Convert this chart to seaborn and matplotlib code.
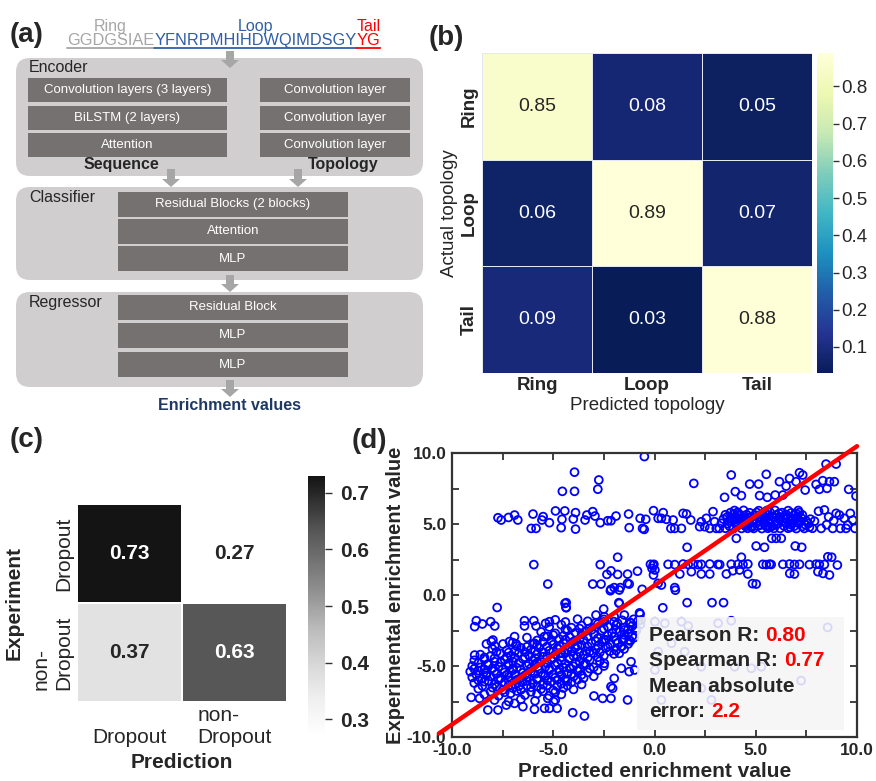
"""Composite figure: model diagram, topology confusion matrix, dropout matrix, enrichment scatter"""
import matplotlib
matplotlib.use('Agg')
import matplotlib.pyplot as plt
import matplotlib.patches as mpatches
from matplotlib.colors import ListedColormap
from matplotlib.ticker import FormatStrFormatter, MultipleLocator
import numpy as np
import pandas as pd
import seaborn as sns

# ---------------- data ----------------
# (a) model diagram text
seq_parts = ['GGDGSIAE', 'YFNRPMHIHDWQIMDSGY', 'YG']
seq_names = ['Ring', 'Loop', 'Tail']
encoder_seq_layers = ['Convolution layers (3 layers)', 'BiLSTM (2 layers)', 'Attention']
encoder_topo_layers = ['Convolution layer', 'Convolution layer', 'Convolution layer']
classifier_layers = ['Residual Blocks (2 blocks)', 'Attention', 'MLP']
regressor_layers = ['Residual Block', 'MLP', 'MLP']

# (b) topology confusion matrix
topo_labels = ['Ring', 'Loop', 'Tail']
topo_matrix = [[0.85, 0.08, 0.05],
               [0.06, 0.89, 0.07],
               [0.09, 0.03, 0.88]]

# (c) dropout confusion matrix
drop_labels_x = ['\nDropout', 'non-\nDropout']
drop_labels_y = ['Dropout', 'non-\nDropout']
drop_matrix = [[0.73, 0.27],
               [0.37, 0.63]]

# (d) predicted vs experimental enrichment
upper_pts = [(-0.5, 9.75), (-3.95, 8.65), (-2.75, 8.1), (-4.55, 7.3), (-3.95, 7.3), (-2.8, 7.45),
             (8.47, 9.22), (8.97, 9.22), (3.79, 8.45), (5.52, 8.5), (1.94, 7.86), (6.17, 7.98),
             (6.67, 8.21), (7.16, 8.61), (7.32, 8.45), (6.99, 7.98), (6.5, 7.67), (4.7, 7.81),
             (5.14, 7.81), (7.98, 7.79), (8.31, 8.05), (8.64, 7.98), (8.88, 7.98), (8.14, 7.44),
             (8.52, 7.51), (7.44, 7.39), (9.59, 7.44), (9.95, 6.97), (3.99, 7.28), (4.29, 7.0),
             (3.46, 6.88), (5.19, 7.0), (5.57, 6.88), (5.96, 7.04), (6.34, 7.04)]
band_sparse = [(-7.73, 5.44), (-7.57, 5.28), (-7.21, 5.46), (-6.91, 5.63), (-6.75, 5.28), (-6.09, 4.69),
               (-5.85, 4.69), (-6.0, 5.7), (-5.5, 5.52), (-5.56, 5.28), (-5.19, 5.09), (-4.89, 5.92),
               (-4.61, 4.74), (-4.57, 5.33), (-4.43, 5.92), (-4.01, 5.35), (-3.9, 5.8), (-3.9, 4.64),
               (-3.43, 5.28), (-3.34, 5.63), (-3.05, 5.87), (-2.94, 5.56), (-2.68, 5.09), (-2.31, 5.23),
               (-2.15, 5.23), (-1.9, 5.56), (-1.28, 5.7), (-1.25, 4.74), (-0.71, 5.4), (-0.59, 4.69),
               (-0.43, 5.33), (-0.51, 4.62), (-0.05, 5.94), (0.18, 5.4), (0.34, 5.4), (0.43, 5.8),
               (0.59, 5.33), (0.81, 4.69), (0.92, 5.28), (1.0, 4.69), (1.33, 4.69), (1.41, 5.75),
               (1.58, 5.7), (1.79, 5.28), (2.23, 4.81), (2.31, 5.16), (2.48, 4.81), (2.56, 5.4),
               (2.73, 4.69), (2.89, 5.87), (2.97, 5.16), (3.05, 4.69), (8.23, 4.69), (8.39, 5.99),
               (8.97, 5.75), (8.85, 5.23), (9.13, 5.63), (9.37, 5.4), (9.54, 4.93), (9.67, 5.75),
               (9.79, 5.28), (9.9, 4.69), (8.8, 4.69), (9.18, 4.69), (9.46, 4.69), (8.6, 5.5),
               (8.1, 5.9), (7.9, 5.2), (8.5, 4.95)]
band_dense = [(3.2, 4.69), (3.5, 4.7), (3.9, 4.68), (4.3, 4.69), (4.6, 4.7), (4.9, 4.69), (5.3, 4.68),
              (5.6, 4.7), (5.9, 4.69), (6.2, 4.69), (6.6, 4.7), (7.0, 4.68), (7.4, 4.69), (7.8, 4.7),
              (3.7, 4.85), (4.1, 4.88), (4.5, 4.83), (4.8, 4.86), (5.1, 4.85), (5.5, 4.87), (5.8, 4.84),
              (6.4, 4.86), (6.9, 4.85), (7.3, 4.83), (3.3, 5.05), (3.6, 5.02), (4.0, 5.07), (4.4, 5.04),
              (4.7, 5.06), (5.0, 5.03), (5.4, 5.05), (5.7, 5.08), (6.1, 5.02), (6.5, 5.06), (6.8, 5.04),
              (7.1, 5.07), (7.6, 5.03), (3.8, 5.2), (4.2, 5.22), (4.6, 5.18), (5.2, 5.21), (5.6, 5.19),
              (6.0, 5.22), (6.3, 5.2), (6.7, 5.18), (7.2, 5.21), (7.5, 5.2), (3.4, 5.35), (3.75, 5.37),
              (4.05, 5.33), (4.5, 5.36), (4.9, 5.34), (5.3, 5.38), (5.75, 5.35), (6.15, 5.33),
              (6.45, 5.36), (6.85, 5.35), (7.0, 5.37), (7.7, 5.34), (3.6, 5.5), (4.0, 5.52), (4.35, 5.48),
              (4.75, 5.51), (5.1, 5.5), (5.45, 5.49), (5.85, 5.52), (6.2, 5.5), (6.6, 5.48), (7.05, 5.51),
              (3.5, 5.65), (3.9, 5.67), (4.25, 5.63), (4.55, 5.66), (4.95, 5.64), (5.25, 5.66),
              (5.6, 5.65), (6.0, 5.63), (6.5, 5.67), (6.9, 5.65), (7.3, 5.64), (3.75, 5.8), (4.1, 5.82),
              (4.7, 5.79), (5.05, 5.81), (5.45, 5.8), (5.7, 5.83), (6.3, 5.8), (6.75, 5.78), (7.15, 5.81),
              (3.95, 5.95), (4.4, 5.96), (5.15, 5.94), (5.55, 5.95), (5.95, 5.96), (6.6, 5.94), (7.1, 5.95),
              (4.45, 4.95), (5.25, 4.93), (6.0, 4.96), (6.75, 4.94), (7.45, 4.95), (3.95, 5.43),
              (4.65, 5.42), (5.55, 5.44), (6.35, 5.43), (7.25, 5.42), (4.15, 5.73), (5.35, 5.72),
              (6.15, 5.74), (7.0, 5.73), (4.8, 4.77), (5.7, 4.78), (6.7, 4.77), (7.65, 4.78)]
mid_pts = [(4.04, 3.99), (5.02, 3.45), (5.43, 3.36), (5.79, 3.99), (6.01, 3.99), (6.26, 3.99),
           (6.95, 3.45), (7.27, 3.36), (1.61, 3.36), (4.29, 2.66), (8.75, 2.66), (8.56, 2.69),
           (0.67, 2.16), (1.0, 2.14), (1.41, 2.18), (1.66, 2.15), (1.9, 2.17), (2.15, 2.14),
           (2.31, 2.16), (2.73, 2.18), (3.13, 2.15), (3.22, 2.14), (3.79, 2.17), (4.12, 2.16),
           (4.37, 2.15), (4.61, 2.18), (5.35, 2.16), (5.52, 2.14), (5.68, 2.17), (5.76, 2.15),
           (6.34, 2.16), (6.67, 2.18), (6.91, 2.15), (7.16, 2.16), (7.65, 2.14), (7.98, 2.17),
           (8.14, 2.16), (8.39, 2.15), (9.03, 2.11), (-5.96, 2.14), (-2.68, 2.14), (-0.2, 2.16),
           (-0.03, 2.16), (-0.12, 1.87), (-0.07, 2.1), (0.02, 1.76), (-0.05, 1.41),
           (1.25, 1.48), (1.82, 1.64), (2.31, 1.48), (2.73, 1.48), (3.55, 1.48), (3.87, 1.71),
           (4.2, 1.76), (4.61, 1.48), (6.91, 1.48), (8.07, 1.64), (8.64, 1.41), (6.68, 1.52),
           (8.32, 1.52), (-1.82, 2.66), (-2.15, 1.7), (-2.35, 1.45), (-1.82, 1.45), (-1.33, 1.47),
           (-0.84, 1.68), (-5.27, 0.77), (-3.05, 0.77), (-2.64, 0.77), (-2.15, 0.4), (-1.99, 0.52),
           (-1.69, 0.52), (-1.33, 0.82), (-1.25, 0.77), (-0.61, 0.4), (5.02, 0.77), (1.0, 0.52),
           (0.18, 0.82), (0.34, 0.7), (1.03, 0.34), (4.84, 0.8), (1.61, -0.54), (2.84, -0.54),
           (3.41, -0.54), (0.41, -0.9), (-0.74, -1.26), (-1.76, -0.54), (-4.36, -0.54),
           (-4.36, -0.9), (-7.77, -0.88), (-4.42, -0.59), (-2.51, -0.99), (-2.18, 0.3), (-1.74, 0.35)]
cluster_pts = [(-4.9, -1.75), (-4.4, -1.9), (-3.8, -1.7), (-3.3, -1.85), (-2.9, -1.95), (-2.5, -1.72),
               (-2.0, -1.88), (-1.6, -1.78), (-1.2, -1.93), (-0.8, -1.8), (-5.2, -2.25), (-4.6, -2.1),
               (-4.1, -2.3), (-3.6, -2.15), (-3.2, -2.35), (-2.8, -2.05), (-2.3, -2.25), (-1.9, -2.12),
               (-1.5, -2.3), (-1.1, -2.18), (-0.7, -2.08), (-5.6, -2.6), (-4.9, -2.7), (-4.3, -2.5),
               (-3.9, -2.65), (-3.4, -2.55), (-3.0, -2.75), (-2.6, -2.5), (-2.1, -2.68), (-1.7, -2.58),
               (-1.3, -2.72), (-0.9, -2.52), (-6.3, -3.0), (-5.3, -2.92), (-4.7, -3.1), (-4.2, -2.95),
               (-3.7, -3.12), (-3.3, -2.9), (-2.8, -3.05), (-2.4, -3.15), (-2.0, -2.93), (-1.5, -3.08),
               (-1.0, -3.0), (-7.0, -3.35), (-6.0, -3.45), (-5.5, -3.3), (-5.0, -3.5), (-4.5, -3.38),
               (-4.0, -3.28), (-3.6, -3.52), (-3.1, -3.4), (-2.6, -3.3), (-2.2, -3.48), (-1.8, -3.35),
               (-1.3, -3.45), (-8.0, -3.8), (-7.3, -3.9), (-6.6, -3.72), (-6.1, -3.85), (-5.7, -3.7),
               (-5.2, -3.92), (-4.8, -3.78), (-4.3, -3.88), (-3.9, -3.7), (-3.4, -3.95), (-2.9, -3.82),
               (-2.4, -3.72), (-1.9, -3.9), (-1.5, -3.8), (-8.6, -4.2), (-8.1, -4.3), (-7.6, -4.12),
               (-7.1, -4.28), (-6.7, -4.1), (-6.2, -4.25), (-5.8, -4.15), (-5.3, -4.32), (-4.9, -4.18),
               (-4.4, -4.08), (-4.0, -4.3), (-3.5, -4.2), (-3.0, -4.1), (-2.5, -4.28), (-2.0, -4.15),
               (-8.9, -4.6), (-8.4, -4.52), (-7.9, -4.7), (-7.4, -4.55), (-7.0, -4.68), (-6.5, -4.5),
               (-6.0, -4.62), (-5.6, -4.72), (-5.1, -4.55), (-4.6, -4.65), (-4.2, -4.5), (-3.7, -4.7),
               (-3.2, -4.58), (-2.7, -4.66), (-9.0, -5.0), (-8.6, -5.1), (-8.2, -4.92), (-7.7, -5.05),
               (-7.2, -4.95), (-6.8, -5.12), (-6.3, -5.0), (-5.9, -4.9), (-5.4, -5.08), (-4.9, -4.95),
               (-4.5, -5.1), (-4.0, -5.02), (-3.5, -4.92), (-3.0, -5.1), (-2.5, -5.0), (-9.1, -5.4),
               (-8.7, -5.32), (-8.3, -5.5), (-7.9, -5.35), (-7.4, -5.45), (-7.0, -5.3), (-6.5, -5.48),
               (-6.1, -5.38), (-5.6, -5.52), (-5.2, -5.3), (-4.7, -5.42), (-4.3, -5.55), (-3.8, -5.35),
               (-3.3, -5.45), (-2.8, -5.3), (-9.0, -5.8), (-8.5, -5.9), (-8.1, -5.72), (-7.6, -5.85),
               (-7.2, -5.75), (-6.7, -5.92), (-6.3, -5.78), (-5.8, -5.88), (-5.4, -5.7), (-4.9, -5.82),
               (-4.4, -5.95), (-4.0, -5.75), (-3.5, -5.85), (-3.0, -5.72), (-8.9, -6.2), (-8.4, -6.1),
               (-7.9, -6.28), (-7.4, -6.15), (-6.9, -6.3), (-6.5, -6.12), (-6.0, -6.22), (-5.5, -6.32),
               (-5.1, -6.1), (-4.6, -6.25), (-4.1, -6.15), (-3.6, -6.3), (-8.7, -6.6), (-8.0, -6.52),
               (-7.5, -6.7), (-7.0, -6.55), (-6.6, -6.68), (-6.1, -6.5), (-5.6, -6.62), (-5.0, -6.72),
               (-4.5, -6.55), (-4.0, -6.65), (-8.4, -7.0), (-7.7, -7.1), (-7.1, -6.92), (-6.4, -7.05),
               (-5.8, -6.95), (-5.2, -7.1), (-4.6, -7.0), (-7.9, -7.4), (-7.2, -7.5), (-6.6, -7.35),
               (-5.9, -7.45), (-4.9, -7.4)]
cluster_core = [(-4.4, -2.42), (-3.7, -2.36), (-3.1, -2.45), (-2.5, -2.38), (-1.9, -2.44), (-1.3, -2.4),
                (-0.9, -2.33), (-5.0, -2.82), (-4.5, -2.88), (-3.6, -2.78), (-2.3, -2.85), (-1.5, -2.8),
                (-1.1, -2.9), (-5.8, -3.2), (-5.1, -3.25), (-4.4, -3.15), (-3.9, -3.22), (-3.5, -3.18),
                (-2.9, -3.25), (-2.5, -3.15), (-1.9, -3.2), (-1.2, -3.24), (-6.8, -3.6), (-6.3, -3.65),
                (-5.8, -3.55), (-5.3, -3.62), (-4.7, -3.58), (-4.2, -3.66), (-3.8, -3.56), (-3.3, -3.62),
                (-2.8, -3.58), (-2.3, -3.64), (-1.6, -3.6), (-7.8, -4.0), (-7.2, -4.05), (-6.9, -3.95),
                (-6.4, -4.02), (-5.9, -3.96), (-5.5, -4.04), (-5.0, -3.98), (-4.6, -4.05), (-4.1, -3.95),
                (-3.7, -4.02), (-3.2, -3.98), (-2.7, -4.04), (-2.2, -3.96), (-8.4, -4.4), (-7.9, -4.45),
                (-7.3, -4.36), (-6.9, -4.42), (-6.4, -4.38), (-5.9, -4.44), (-5.5, -4.35), (-5.0, -4.42),
                (-4.6, -4.38), (-4.2, -4.45), (-3.8, -4.36), (-3.3, -4.42), (-2.8, -4.38), (-8.7, -4.8),
                (-8.2, -4.84), (-7.6, -4.76), (-7.2, -4.82), (-6.7, -4.78), (-6.2, -4.85), (-5.8, -4.76),
                (-5.3, -4.82), (-4.8, -4.78), (-4.4, -4.84), (-3.9, -4.76), (-3.4, -4.82), (-8.9, -5.2),
                (-8.4, -5.24), (-8.0, -5.16), (-7.5, -5.22), (-7.0, -5.18), (-6.6, -5.25), (-6.1, -5.16),
                (-5.7, -5.22), (-5.2, -5.18), (-4.7, -5.24), (-4.2, -5.16), (-3.7, -5.22), (-3.2, -5.18),
                (-8.8, -5.6), (-8.3, -5.65), (-7.8, -5.56), (-7.3, -5.62), (-6.9, -5.58), (-6.4, -5.66),
                (-5.9, -5.56), (-5.5, -5.62), (-5.0, -5.58), (-4.6, -5.64), (-4.1, -5.56), (-3.6, -5.62),
                (-8.7, -6.0), (-8.2, -6.05), (-7.7, -5.96), (-7.2, -6.02), (-6.8, -5.98), (-6.3, -6.04),
                (-5.8, -5.96), (-5.3, -6.02), (-4.8, -5.98), (-4.3, -6.04), (-3.8, -5.96), (-8.5, -6.4),
                (-7.8, -6.45), (-7.2, -6.36), (-6.7, -6.42), (-6.3, -6.38), (-5.8, -6.44), (-5.3, -6.36),
                (-4.8, -6.42), (-4.3, -6.38), (-8.1, -6.8), (-7.4, -6.85), (-6.8, -6.76), (-6.1, -6.82),
                (-5.5, -6.78), (-4.9, -6.84)]
cluster_edge = [(-8.88, -2.23), (-8.8, -1.81), (-8.5, -2.04), (-8.09, -1.88), (-7.89, -2.18),
                (-6.42, -1.81), (-6.42, -2.18), (-5.96, -1.81), (-5.85, -2.18), (-4.37, -0.87),
                (-5.38, -2.0), (-5.19, -1.88), (-1.74, -0.59), (-0.71, -1.34), (-8.3, -3.45),
                (-7.98, -3.17), (-7.89, -3.59), (-7.48, -3.45), (-7.16, -3.28), (-6.83, -3.45),
                (-6.91, -2.93), (-5.93, -3.4), (-5.44, -2.93), (-8.06, -3.28), (-8.88, -4.23),
                (-9.05, -7.21), (-8.64, -7.28), (-8.23, -8.1), (-7.73, -8.1), (-7.32, -7.75),
                (-6.91, -7.63), (-6.5, -7.86), (-5.93, -8.05), (-5.43, -7.98), (-5.27, -7.28),
                (-5.19, -7.98), (-4.98, -7.51), (-4.81, -7.98), (-4.04, -8.29), (-3.46, -8.52),
                (-2.56, -7.28), (-2.15, -7.28), (-1.33, -7.39), (-1.16, -4.7), (-1.25, -5.4),
                (-1.64, -5.16), (-1.99, -5.87), (-2.15, -6.45), (-2.07, -6.57), (-2.99, -7.11),
                (-0.98, -5.28), (-2.48, -4.81), (-1.74, -4.11), (-1.66, -3.64), (-1.58, -3.17),
                (-1.25, -3.17), (-1.49, -2.46), (-1.17, -1.99), (-1.82, -1.99), (-2.48, -1.88),
                (-2.89, -1.41), (-2.48, -1.53), (-1.99, -1.53), (-1.49, -1.41), (-1.03, -1.71),
                (-0.67, -1.76)]
under_box_pts = [(0.02, -1.88), (0.51, -1.99), (1.33, -1.88), (1.66, -2.18), (3.14, -1.99),
                 (3.79, -1.81), (8.55, -2.28), (1.49, -3.99), (7.24, -6.03), (2.81, -7.39),
                 (0.34, -7.39), (2.31, -6.57), (0.84, -3.4), (2.31, -5.05), (3.96, -5.05),
                 (4.78, -5.16), (5.27, -5.05), (0.02, -5.28), (0.18, -3.99)]
fit_slope, fit_intercept = 0.98, 0.68
fit_x = [-10.65, 10.0]
stat_labels = ['Pearson R:', 'Spearman R:', 'Mean absolute', 'error:']
stat_values = ['0.80', '0.77', '', '2.2']

# ---------------- figure ----------------
sns.set_style('white')
plt.rcParams['font.family'] = ['Liberation Sans', 'DejaVu Sans']

W, H = 876, 781
fig = plt.figure(figsize=(W / 100, H / 100), dpi=100)


def px_axes(x0, y0, x1, y1):
    """Axes placed by pixel box (top-left origin)"""
    return fig.add_axes([x0 / W, 1 - y1 / H, (x1 - x0) / W, (y1 - y0) / H])


def panel_label(x, y, text):
    fig.text(x / W, 1 - y / H, text, ha='left', va='center', fontsize=20, fontweight='bold')


# ---- (a) diagram ----
ax_a = px_axes(0, 0, 430, 415)
ax_a.set_xlim(0, 430)
ax_a.set_ylim(415, 0)
ax_a.axis('off')


def stage_box(y0, y1, title, title_y):
    ax_a.add_patch(mpatches.FancyBboxPatch((16, y0), 407, y1 - y0,
                                           boxstyle='round,pad=0,rounding_size=14',
                                           fc='#d0cece', ec='none'))
    ax_a.text(29, title_y, title, fontsize=11.5, ha='left', va='center')


def layer_stack(x0, x1, tops, h, names):
    for top, name in zip(tops, names):
        ax_a.add_patch(mpatches.Rectangle((x0, top), x1 - x0, h, fc='#767171', ec='none'))
        ax_a.text((x0 + x1) / 2, top + h / 2, name, color='white', fontsize=9.5,
                  ha='center', va='center')


def down_arrow(x, y0, y1):
    ax_a.add_patch(mpatches.FancyArrow(x, y0, 0, y1 - y0, width=8, head_width=18,
                                       head_length=8, length_includes_head=True,
                                       fc='#a6a6a6', ec='none', zorder=3))


stage_box(58, 176, 'Encoder', 68)
layer_stack(28, 227, [78, 106, 133], 24, encoder_seq_layers)
layer_stack(260, 410, [78, 106, 133], 24, encoder_topo_layers)
ax_a.text(121, 165, 'Sequence', fontsize=11.5, fontweight='bold', ha='center', va='center')
ax_a.text(343, 165, 'Topology', fontsize=11.5, fontweight='bold', ha='center', va='center')

stage_box(187, 280, 'Classifier', 197)
layer_stack(118, 348, [192, 219, 246], 25, classifier_layers)

stage_box(292, 387, 'Regressor', 302)
layer_stack(118, 348, [295, 323, 352], 25, regressor_layers)

down_arrow(230, 51, 68)
down_arrow(171, 169, 187)
down_arrow(298, 169, 187)
down_arrow(230, 275, 292)
down_arrow(230, 380, 397)
ax_a.text(230, 405, 'Enrichment values', fontsize=11.5, fontweight='bold',
          color='#1f3864', ha='center', va='center')

# sequence with coloured segments
seg_colors = ['#a6a6a6', '#2f5fa8', '#ff0000']
prev = None
for part, name, col in zip(seq_parts, seq_names, seg_colors):
    if prev is None:
        seg = ax_a.text(67, 45, part, color=col, fontsize=11.8, ha='left', va='baseline')
    else:
        seg = ax_a.annotate(part, xy=(1, 0), xycoords=prev, ha='left', va='bottom',
                            color=col, fontsize=11.8)
    ax_a.annotate(name, xy=(0.5, 1), xycoords=seg, xytext=(0, -1), textcoords='offset points',
                  ha='center', va='bottom', color=col, fontsize=11.5)
    ax_a.annotate('', xy=(0, 0), xycoords=seg, xytext=(1, 0), textcoords=seg,
                  arrowprops=dict(arrowstyle='-', color=col, lw=1.3, shrinkA=0, shrinkB=0))
    prev = seg

# ---- (b) topology heatmap ----
topo_df = pd.DataFrame(topo_matrix, index=topo_labels, columns=topo_labels)
ax_b = px_axes(482, 53, 812, 373)
cax_b = px_axes(817, 53, 833, 373)
sns.heatmap(topo_df, ax=ax_b, cbar_ax=cax_b, cmap='YlGnBu_r', annot=True, fmt='.2f',
            annot_kws={'fontsize': 14}, linewidths=0.4, linecolor='#e4e8ee')
ax_b.set_xticklabels(topo_labels, fontsize=13.5, fontweight='bold', rotation=0)
ax_b.set_yticklabels(topo_labels, fontsize=13.5, fontweight='bold', rotation=90, va='center')
ax_b.tick_params(length=0, pad=3)
ax_b.set_xlabel('Predicted topology', fontsize=13.5, labelpad=2)
ax_b.set_ylabel('Actual topology', fontsize=13.5, labelpad=2)
cbar_b = ax_b.collections[0].colorbar
cbar_b.set_ticks([0.1, 0.2, 0.3, 0.4, 0.5, 0.6, 0.7, 0.8])
cax_b.tick_params(right=True, length=4, width=1, color='#333333', labelsize=13.5, pad=2)

# ---- (c) dropout heatmap ----
drop_df = pd.DataFrame(drop_matrix)
grey_cmap = ListedColormap(plt.cm.Greys(np.linspace(0.0, 0.93, 256)))
ax_c = px_axes(77, 504, 287, 702)
cax_c = px_axes(308, 476, 325, 736)
sns.heatmap(drop_df, ax=ax_c, cbar_ax=cax_c, cmap=grey_cmap, annot=True, fmt='.2f',
            annot_kws={'fontsize': 15, 'fontweight': 'bold'}, linewidths=1.2, linecolor='white')
ax_c.set_xticklabels(drop_labels_x, fontsize=15, rotation=0, multialignment='left')
ax_c.set_yticklabels(drop_labels_y, fontsize=15, rotation=90, va='center', multialignment='left')
ax_c.tick_params(length=0, pad=3)
ax_c.set_xlabel('Prediction', fontsize=15, fontweight='bold', labelpad=4)
ax_c.set_ylabel('Experiment', fontsize=15, fontweight='bold', labelpad=6)
cbar_c = ax_c.collections[0].colorbar
cbar_c.set_ticks([0.3, 0.4, 0.5, 0.6, 0.7])
cax_c.tick_params(right=True, length=5, width=1, color='#333333', labelsize=15, pad=6)
for lab in cax_c.get_yticklabels():
    lab.set_fontweight('bold')

# ---- (d) scatter ----
all_pts = (upper_pts + band_sparse + band_dense + mid_pts + cluster_pts + cluster_core
           + cluster_edge + under_box_pts)
pts_df = pd.DataFrame(all_pts, columns=['predicted', 'experimental'])
ax_d = px_axes(452, 453, 857, 737)
sns.scatterplot(data=pts_df, x='predicted', y='experimental', ax=ax_d, marker='o', s=32,
                facecolor='none', edgecolor='#0000ff', linewidth=1.3, zorder=2)
fit_x = np.array(fit_x)
ax_d.plot(fit_x, fit_slope * fit_x + fit_intercept, color='#ff0000', lw=3.2,
          clip_on=False, zorder=5)
ax_d.add_patch(mpatches.Rectangle((-0.84, -9.5), 10.2, 7.95, fc='#f5f5f5', ec='none',
                                  alpha=0.88, zorder=3))
for lab, val, y in zip(stat_labels, stat_values, [-2.82, -4.58, -6.41, -8.17]):
    t = ax_d.text(-0.25, y, lab, fontsize=15, fontweight='bold', ha='left', va='center', zorder=6)
    if val:
        ax_d.annotate(val, xy=(1, 0), xycoords=t, xytext=(4, 0), textcoords='offset points',
                      ha='left', va='bottom', fontsize=15, fontweight='bold', color='#ff0000',
                      zorder=6)

ax_d.set_xlim(-10, 10)
ax_d.set_ylim(-10, 10)
for axis in (ax_d.xaxis, ax_d.yaxis):
    axis.set_major_locator(MultipleLocator(5))
    axis.set_minor_locator(MultipleLocator(2.5))
    axis.set_major_formatter(FormatStrFormatter('%.1f'))
ax_d.tick_params(which='both', direction='in', top=True, right=True, bottom=True, left=True,
                 length=5, width=1.3, color='#333333')
ax_d.tick_params(which='major', labelsize=12.5, pad=4)
for lab in ax_d.get_xticklabels() + ax_d.get_yticklabels():
    lab.set_fontweight('bold')
for spine in ax_d.spines.values():
    spine.set_linewidth(1.6)
    spine.set_color('#333333')
ax_d.set_xlabel('Predicted enrichment value', fontsize=15, fontweight='bold', labelpad=3)
ax_d.set_ylabel('Experimental enrichment value', fontsize=14.5, fontweight='bold', labelpad=1)

panel_label(10, 35, '(a)')
panel_label(429, 38, '(b)')
panel_label(10, 440, '(c)')
panel_label(352, 441, '(d)')

fig.savefig('out.png', dpi=100)
